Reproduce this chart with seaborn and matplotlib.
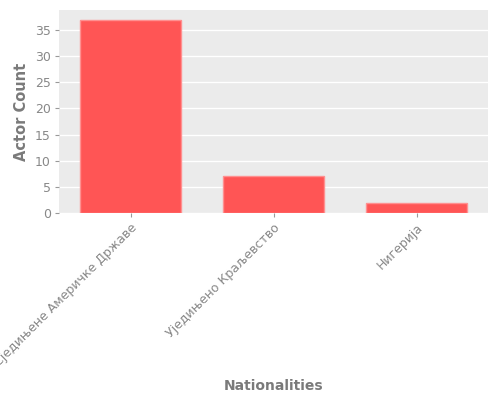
import pandas as pd
import matplotlib
matplotlib.use('Agg')
import matplotlib.pyplot as plt
from matplotlib.ticker import MultipleLocator
import seaborn as sns

nationalities = ['Сједињене Америчке Државе', 'Уједињено Краљевство', 'Нигерија']
actor_counts = [37, 7, 2]

df = pd.DataFrame({'Nationalities': nationalities, 'Actor Count': actor_counts})

sns.set_style('darkgrid', {'axes.facecolor': '#EBEBEB', 'grid.color': 'white',
                           'xtick.bottom': True, 'ytick.left': True})
plt.rcParams['font.family'] = ['DejaVu Sans']

fig = plt.figure(figsize=(5, 4), dpi=100)
ax = fig.add_axes([0.118, 0.4675, 0.858, 0.5075])

sns.barplot(data=df, x='Nationalities', y='Actor Count', ax=ax,
            color='#FF5555', saturation=1, width=0.7,
            edgecolor='#FF9090', linewidth=1)

ax.yaxis.set_major_locator(MultipleLocator(5))
ax.grid(axis='x', visible=False)
ax.grid(axis='y', color='white', linewidth=1)
ax.set_axisbelow(True)
for s in ax.spines.values():
    s.set_visible(False)

ax.tick_params(axis='both', colors='#999999', labelcolor='#888888', labelsize=9, length=3, pad=3)
plt.setp(ax.get_xticklabels(), rotation=45, ha='right', va='top', rotation_mode='anchor', fontsize=9)
ax.set_xlabel('Nationalities', fontsize=10, fontweight='bold', color='#7a7a7a')
ax.xaxis.set_label_coords(0.5, -0.82)
ax.set_ylabel('Actor Count', fontsize=10.5, fontweight='bold', color='#7a7a7a', labelpad=4.5)

fig.savefig('out.png', dpi=100)
